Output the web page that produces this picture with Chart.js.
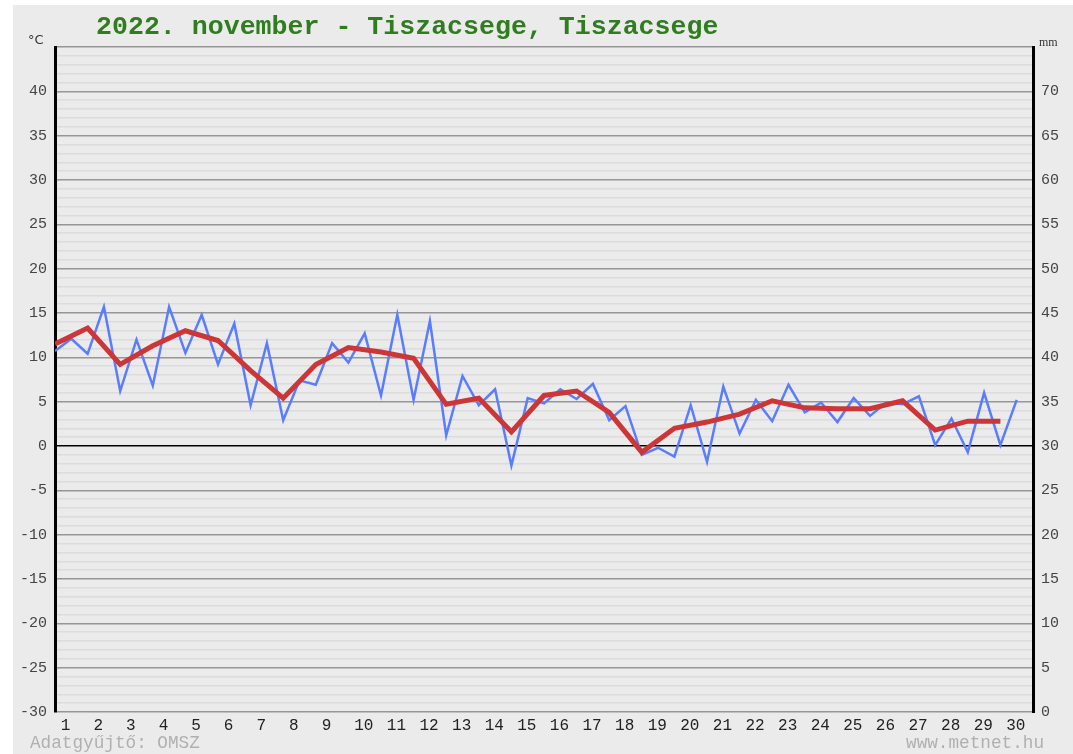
<!DOCTYPE html>
<html lang="hu">
<head>
<meta charset="utf-8">
<title>2022. november - Tiszacsege</title>
<script src="https://cdn.jsdelivr.net/npm/chart.js@4/dist/chart.umd.min.js"></script>
<style>
  html, body { margin: 0; padding: 0; background: #ffffff; }
  #wrap { position: relative; width: 1073px; height: 754px; }
</style>
</head>
<body>
<div id="wrap"><canvas id="homersekletChart" width="1073" height="754"></canvas></div>
<script>
// ===============================
// Adatok
// ===============================
const dayLabels = ["1", "2", "3", "4", "5", "6", "7", "8", "9", "10", "11", "12", "13", "14", "15",
  "16", "17", "18", "19", "20", "21", "22", "23", "24", "25", "26", "27", "28", "29", "30"];

// félnapos hőmérséklet (kék)
const halfDayTemps = [10.7, 12.1, 10.4, 15.7, 6.2, 12.0, 6.8, 15.7, 10.5, 14.8,
  9.2, 13.8, 4.6, 11.6, 2.9, 7.4, 6.9, 11.6, 9.4, 12.7,
  5.7, 14.8, 5.2, 14.1, 1.2, 7.9, 4.6, 6.4, -2.2, 5.4,
  4.8, 6.4, 5.3, 7.0, 2.9, 4.5, -1.0, -0.2, -1.2, 4.6,
  -1.8, 6.7, 1.4, 5.2, 2.8, 6.9, 3.8, 4.9, 2.7, 5.4,
  3.4, 4.9, 4.7, 5.6, 0.1, 3.1, -0.7, 6.0, 0.1, 5.2];

// napi átlag (piros)
const dailyMeanTemps = [11.5, 13.3, 9.2, 11.3, 13.0, 11.9, 8.5, 5.4, 9.2, 11.1,
  10.6, 9.9, 4.7, 5.4, 1.6, 5.7, 6.2, 3.8, -0.7, 2.0,
  2.7, 3.6, 5.1, 4.3, 4.2, 4.2, 5.1, 1.8, 2.8, 2.8];

const tempMin = -30;
const tempMax = 45;
const mmMin = 0;
const mmMax = 75;

const titleText = "2022. november - Tiszacsege, Tiszacsege";
const sourceText = "Adatgyűjtő: OMSZ";
const siteText = "www.metnet.hu";

document.addEventListener("DOMContentLoaded", function () {
  const ctx = document.getElementById("homersekletChart");

  // ===============================
  // Háttér, cím és feliratok
  // ===============================
  const decorPlugin = {
    id: "decor",
    beforeDraw(chart) {
      const c = chart.ctx;
      c.save();
      c.fillStyle = "#ffffff";
      c.fillRect(0, 0, chart.width, chart.height);
      c.fillStyle = "#ebebeb";
      c.fillRect(13, 5, chart.width - 13, chart.height - 5);
      c.restore();
    },
    afterDraw(chart) {
      const c = chart.ctx;
      c.save();
      c.textBaseline = "middle";
      c.fillStyle = "#2f7d1f";
      c.font = "bold 26.6px 'Liberation Mono', 'Courier New', monospace";
      c.textAlign = "left";
      c.fillText(titleText, 96, 27);

      c.fillStyle = "#333333";
      c.font = "13px 'DejaVu Sans', sans-serif";
      c.fillText("°C", 28, 41);
      c.font = "12px 'Liberation Serif', serif";
      c.fillText("mm", 1039, 43);

      c.fillStyle = "#b0b0b0";
      c.font = "17.7px 'Liberation Mono', monospace";
      c.fillText(sourceText, 30, 743);
      c.textAlign = "right";
      c.fillText(siteText, 1044, 743);
      c.restore();
    }
  };

  const halfDayPoints = halfDayTemps.map((v, i) => ({ x: i * 0.5, y: v }));
  const dailyPoints = dailyMeanTemps.map((v, i) => ({ x: i, y: v }));

  new Chart(ctx, {
    type: "line",
    data: {
      datasets: [
        {
          label: "Hőmérséklet",
          data: halfDayPoints,
          borderColor: "#5a7dff",
          borderWidth: 2.5,
          pointRadius: 0,
          tension: 0,
          order: 2
        },
        {
          label: "Napi átlag",
          data: dailyPoints,
          borderColor: "#cc3636",
          borderWidth: 5,
          pointRadius: 0,
          tension: 0,
          order: 1
        }
      ]
    },
    options: {
      responsive: false,
      animation: false,
      layout: { padding: { top: 47, left: 0, right: 0, bottom: 0 } },
      plugins: {
        legend: { display: false },
        title: { display: false },
        tooltip: { enabled: false }
      },
      scales: {
        x: {
          type: "linear",
          position: "bottom",
          min: 0,
          max: dayLabels.length,
          afterBuildTicks: (scale) => {
            scale.ticks = dayLabels.map((d, i) => ({ value: i + 0.18 }));
          },
          afterFit: (scale) => { scale.height = 42; },
          ticks: {
            align: "start",
            autoSkip: false,
            maxRotation: 0,
            padding: 4,
            color: "#222222",
            font: { family: "'Liberation Mono', monospace", size: 16 },
            callback: (value, index) => dayLabels[index]
          },
          grid: { display: false, drawTicks: false },
          border: { display: false }
        },
        y: {
          position: "left",
          min: tempMin,
          max: tempMax,
          afterBuildTicks: (scale) => {
            const t = [];
            for (let v = tempMin; v <= tempMax; v++) t.push({ value: v });
            scale.ticks = t;
          },
          afterFit: (scale) => { scale.width = 55; },
          ticks: {
            autoSkip: false,
            padding: 8,
            color: "#444444",
            font: { family: "'Liberation Mono', monospace", size: 15 },
            callback: (v) => (v % 5 === 0 && v !== tempMax ? String(v) : "")
          },
          grid: {
            drawTicks: false,
            color: (c) => {
              const v = c.tick.value;
              if (v === 0) return "#000000";
              return v % 5 === 0 ? "#969696" : "#dcdcdc";
            },
            lineWidth: (c) => (c.tick.value % 5 === 0 ? 1.6 : 1.5)
          },
          border: { display: true, color: "#000000", width: 3 }
        },
        y2: {
          position: "right",
          min: mmMin,
          max: mmMax,
          afterBuildTicks: (scale) => {
            const t = [];
            for (let v = mmMin; v <= mmMax; v += 5) t.push({ value: v });
            scale.ticks = t;
          },
          afterFit: (scale) => { scale.width = 40; },
          ticks: {
            autoSkip: false,
            padding: 8,
            color: "#444444",
            font: { family: "'Liberation Mono', monospace", size: 15 },
            callback: (v) => (v !== mmMax ? String(v) : "")
          },
          grid: { display: false, drawTicks: false },
          border: { display: true, color: "#000000", width: 3 }
        }
      }
    },
    plugins: [decorPlugin]
  });

  console.log("Diagram kirajzolva.");
});
</script>
</body>
</html>
